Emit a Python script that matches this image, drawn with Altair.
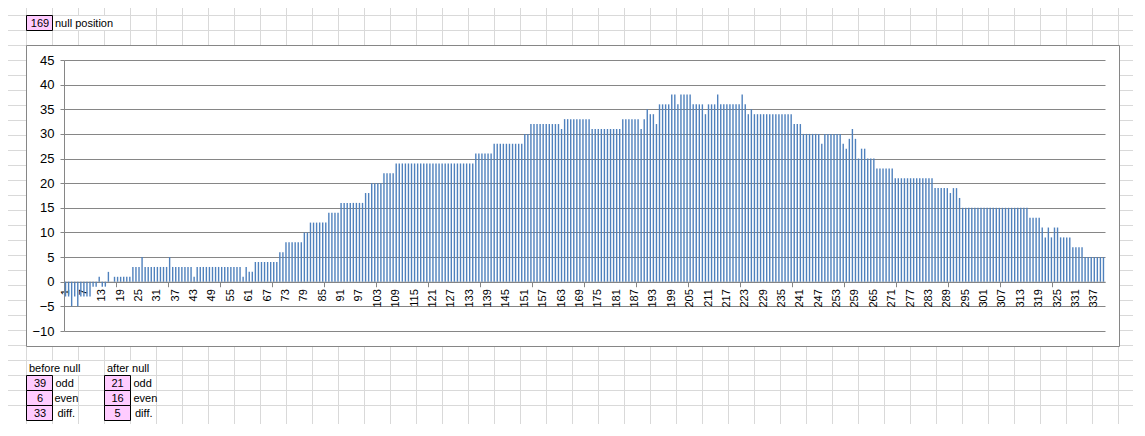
import altair as alt
import pandas as pd
import numpy as np

# ---------------- data ----------------
categories = list(range(1, 341))
values = [
    -3, -3, -5, -3, -5, -3, -3, -3, -3, -1, -1, 1, -1, -1, 2, 0, 1, 1, 1, 1,
    1, 1, 3, 3, 3, 5, 3, 3, 3, 3, 3, 3, 3, 3, 5, 3, 3, 3, 3, 3,
    3, 3, 1, 3, 3, 3, 3, 3, 3, 3, 3, 3, 3, 3, 3, 3, 3, 3, 1, 3,
    2, 2, 4, 4, 4, 4, 4, 4, 4, 4, 6, 6, 8, 8, 8, 8, 8, 8, 10, 10,
    12, 12, 12, 12, 12, 12, 14, 14, 14, 14, 16, 16, 16, 16, 16, 16, 16, 16, 18, 18,
    20, 20, 20, 20, 22, 22, 22, 22, 24, 24, 24, 24, 24, 24, 24, 24, 24, 24, 24, 24,
    24, 24, 24, 24, 24, 24, 24, 24, 24, 24, 24, 24, 24, 24, 26, 26, 26, 26, 26, 26,
    28, 28, 28, 28, 28, 28, 28, 28, 28, 28, 30, 30, 32, 32, 32, 32, 32, 32, 32, 32,
    32, 32, 31, 33, 33, 33, 33, 33, 33, 33, 33, 33, 31, 31, 31, 31, 31, 31, 31, 31,
    31, 31, 33, 33, 33, 33, 33, 33, 31, 33, 35, 34, 34, 32, 36, 36, 36, 36, 38, 38,
    36, 38, 38, 38, 38, 36, 36, 36, 36, 34, 36, 36, 36, 38, 36, 36, 36, 36, 36, 36,
    36, 38, 36, 34, 35, 34, 34, 34, 34, 34, 34, 34, 34, 34, 34, 34, 34, 34, 32, 32,
    32, 30, 30, 30, 30, 30, 30, 28, 30, 30, 30, 30, 30, 30, 28, 27, 29, 31, 29, 25,
    27, 27, 25, 25, 25, 23, 23, 23, 23, 23, 23, 21, 21, 21, 21, 21, 21, 21, 21, 21,
    21, 21, 21, 21, 19, 19, 19, 19, 19, 18, 19, 19, 17, 15, 15, 15, 15, 15, 15, 15,
    15, 15, 15, 15, 15, 15, 15, 15, 15, 15, 15, 15, 15, 15, 15, 13, 13, 13, 13, 11,
    9, 11, 9, 11, 11, 9, 9, 9, 9, 7, 7, 7, 7, 5, 5, 5, 5, 5, 5, 5,
]
x_label_values = list(range(1, 338, 6))
x_tick_values = list(range(18, 340, 17))
y_tick_values = list(range(-10, 50, 5))

null_position = "169"
null_caption = "null position"
before_title = "before null"
after_title = "after null"
before_counts = ["39", "6", "33"]
after_counts = ["21", "16", "5"]
row_names = ["odd", "even", "diff."]

df = pd.DataFrame({"cat": categories, "val": values})
tick_df = pd.DataFrame({"cat": x_tick_values})

# ---------------- layout (page pixels) ----------------
W, H = 1041, 271
PAD_L, PAD_T, PAD_R, PAD_B = 56, 52, 28, 93
OX, OY = 8 + PAD_L, 8 + PAD_T          # page position of plot origin
PAGE_L, PAGE_T = 8, 8
PAGE_R, PAGE_B = 8 + PAD_L + W + PAD_R, 8 + PAD_T + H + PAD_B
CH_L, CH_T, CH_R, CH_B = 26.5, 45.5, 1119.5, 346.5   # chart-area border

FONT = "Liberation Sans"
GRID = "#868686"
BLUE = "#4F81BD"
CELL_GRID = "#d9d9d9"
PINK = "#FFCCFF"

zero_offset = H * 45 / 55 - H


def shift(d):
    d[["x", "x2"]] -= OX
    d[["y", "y2"]] -= OY
    return d


def box_enc(ch):
    return ch.encode(
        x=alt.X("x:Q", scale=None), x2="x2:Q",
        y=alt.Y("y:Q", scale=None), y2="y2:Q",
    )


# spreadsheet grid segments (kept outside the chart area)
seg = []
for k in range(1, 44):
    gx = 26 * k + 0.5
    if CH_L - 1 < gx < CH_R + 1:
        seg.append((gx, gx, PAGE_T, CH_T))
        seg.append((gx, gx, CH_B, PAGE_B))
    else:
        seg.append((gx, gx, PAGE_T, PAGE_B))
for k in range(1, 28):
    gy = 15 * k + 0.5
    if CH_T - 1 < gy < CH_B + 1:
        seg.append((PAGE_L, CH_L, gy, gy))
        seg.append((CH_R, PAGE_R, gy, gy))
    else:
        seg.append((PAGE_L, PAGE_R, gy, gy))
seg_df = shift(pd.DataFrame(seg, columns=["x", "x2", "y", "y2"]))
sheet_grid = box_enc(alt.Chart(seg_df).mark_rule(color=CELL_GRID, strokeWidth=1))

# white patches where overflowing cell text hides the column lines
patches = [(53, 130, 16, 30), (27, 104, 361, 375), (105, 156, 361, 375)]
patch_df = shift(pd.DataFrame(patches, columns=["x", "x2", "y", "y2"]).astype(float))
patch = box_enc(alt.Chart(patch_df).mark_rect(fill="white"))

border_df = shift(pd.DataFrame([(CH_L, CH_R, CH_T, CH_B)], columns=["x", "x2", "y", "y2"]))
border = box_enc(alt.Chart(border_df).mark_rect(fill="transparent", stroke=GRID, strokeWidth=1))

# pink cells
cell_boxes = [(26.5, 52.5, 15.5, 30.5)]
for r in range(3):
    cell_boxes.append((26.5, 52.5, 375.5 + 15 * r, 390.5 + 15 * r))
    cell_boxes.append((104.5, 130.5, 375.5 + 15 * r, 390.5 + 15 * r))
cells_df = shift(pd.DataFrame(cell_boxes, columns=["x", "x2", "y", "y2"]))
cells = box_enc(alt.Chart(cells_df).mark_rect(fill=PINK, stroke="black", strokeWidth=1))

# texts
center_texts = [(null_position, 40, 27)]
for r in range(3):
    center_texts.append((before_counts[r], 40, 387 + 15 * r))
    center_texts.append((after_counts[r], 117.5, 387 + 15 * r))
left_texts = [(null_caption, 55, 27), (before_title, 29, 372), (after_title, 107, 372)]
left_off_1 = [55.5, 54.5, 57.5]
left_off_2 = [133.5, 133.5, 135]
for r in range(3):
    left_texts.append((row_names[r], left_off_1[r], 387 + 15 * r))
    left_texts.append((row_names[r], left_off_2[r], 387 + 15 * r))

ct_df = pd.DataFrame(center_texts, columns=["t", "x", "y"])
lt_df = pd.DataFrame(left_texts, columns=["t", "x", "y"])
for d in (ct_df, lt_df):
    d["x"] = d["x"] - OX
    d["y"] = d["y"] - OY

ctext = alt.Chart(ct_df).mark_text(font=FONT, fontSize=11, align="center", baseline="alphabetic", color="black").encode(
    x=alt.X("x:Q", scale=None), y=alt.Y("y:Q", scale=None), text="t:N")
ltext = alt.Chart(lt_df).mark_text(font=FONT, fontSize=11, align="left", baseline="alphabetic", color="black").encode(
    x=alt.X("x:Q", scale=None), y=alt.Y("y:Q", scale=None), text="t:N")

# ---------------- bar chart ----------------
xscale = alt.Scale(domain=categories, paddingInner=0, paddingOuter=0)
yscale = alt.Scale(domain=[-10, 45], nice=False)

bars = alt.Chart(df).mark_bar(size=1.4, color=BLUE).encode(
    x=alt.X("cat:O", scale=xscale, axis=alt.Axis(
        values=x_label_values, orient="bottom", labelAngle=270, labelFont=FONT, labelFontSize=11,
        labelColor="black", ticks=False, tickSize=0, labelPadding=7, domain=True,
        domainColor=GRID, grid=False, title=None, offset=zero_offset, labelOverlap=False)),
    y=alt.Y("val:Q", scale=yscale, axis=alt.Axis(
        values=y_tick_values, grid=True, gridColor=GRID, domainColor=GRID, tickColor=GRID,
        tickSize=4, labelFont=FONT, labelFontSize=13, labelColor="black", labelPadding=6, title=None)),
)

ticks = alt.Chart(tick_df).mark_point(opacity=0).encode(
    x=alt.X("cat:O", scale=xscale, axis=alt.Axis(
        values=x_tick_values, orient="bottom", bandPosition=0, labels=False, domain=False,
        ticks=True, tickSize=5, tickColor=GRID, grid=False, title=None, offset=zero_offset)),
)

chart = alt.layer(sheet_grid, patch, border, bars, ticks, cells, ctext, ltext).resolve_axis(
    x="independent", y="independent"
).properties(
    width=W, height=H,
    autosize=alt.AutoSizeParams(type="none"),
    padding={"left": PAD_L, "top": PAD_T, "right": PAD_R, "bottom": PAD_B},
).configure_view(stroke="transparent")

chart.save("out.html", embed_options={"renderer": "svg", "actions": False})
